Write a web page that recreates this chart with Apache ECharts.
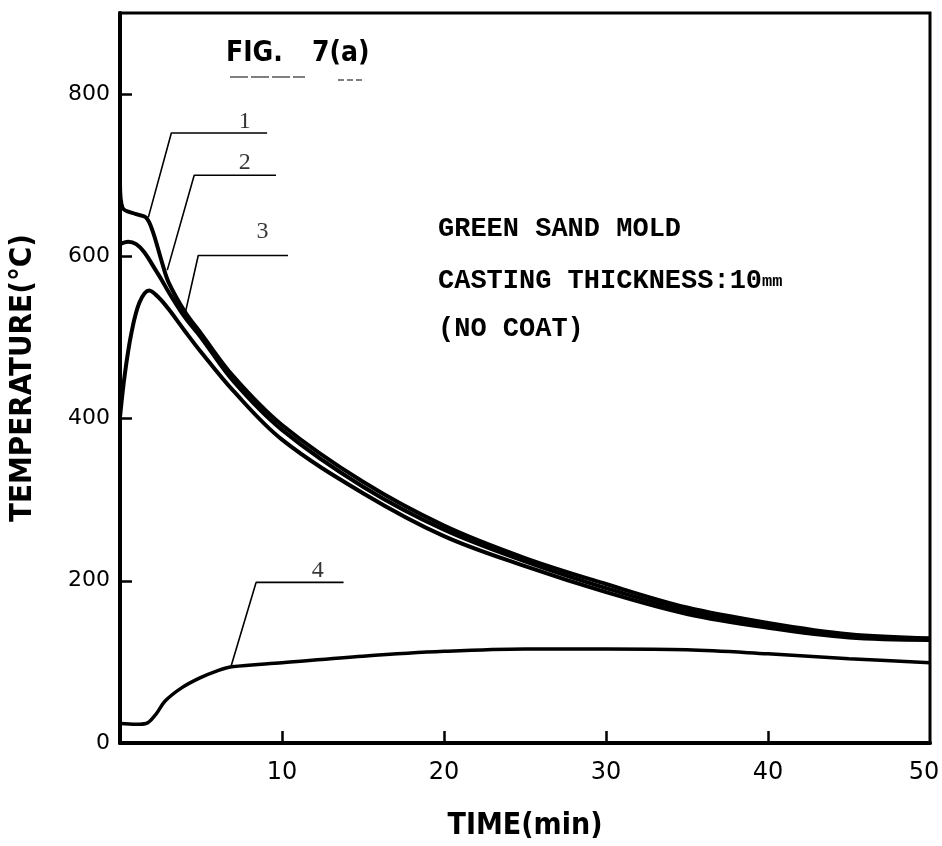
<!DOCTYPE html>
<html>
<head>
<meta charset="utf-8">
<script src="https://cdn.jsdelivr.net/npm/echarts@6/dist/echarts.min.js"></script>
<style>
  html, body { margin: 0; padding: 0; background: #fff; }
  #main { width: 942px; height: 846px; }
</style>
</head>
<body>
<div id="main"></div>
<script>
// 读图得到的数据 (time in min, temperature in °C)
const curve1Time = [0, 0.15, 1, 1.6, 2, 2.6, 3, 4, 5, 7, 10, 15, 20, 25, 30, 35, 40, 45, 50]
const curve1Temp = [690, 660, 652, 648, 632, 592, 568, 532, 505, 452, 392, 322, 268, 228, 196, 167, 148, 134, 129]

const curve2Time = [0, 0.5, 1, 1.5, 2.2, 2.6, 3, 4, 5, 7, 10, 15, 20, 25, 30, 35, 40, 45, 50]
const curve2Temp = [615, 618, 615, 605, 583, 570, 556, 525, 500, 446, 386, 316, 263, 224, 191, 163, 145, 132, 128]

const curve3Time = [0, 0.3, 0.7, 1.2, 1.8, 2.4, 3, 4, 5, 7, 10, 15, 20, 25, 30, 35, 40, 45, 50]
const curve3Temp = [402, 455, 505, 543, 558, 549, 535, 508, 482, 434, 374, 308, 255, 218, 186, 159, 142, 130, 127]

const curve4Time = [0, 1, 1.6, 2.2, 2.8, 3.8, 4.9, 6, 6.9, 10, 15, 20, 25, 30, 35, 40, 45, 50]
const curve4Temp = [24, 23, 24, 35, 52, 68, 80, 89, 94, 99, 107, 113, 116, 116, 115, 110, 104, 99]

const xTicks = [10, 20, 30, 40, 50]
const yTicks = [0, 200, 400, 600, 800]

// 曲线编号的引出线 (data coords)
const leaderNames = ['1', '2', '3', '4']
const leaderTime = [[1.75, 3.17, 9.08], [2.92, 4.58, 9.63], [3.97, 4.83, 10.37], [6.86, 8.4, 13.8]]
const leaderTemp = [[648, 752, 752], [583, 700, 700], [525, 601, 601], [95, 198, 198]]
const leaderLabelTime = [7.7, 7.7, 8.8, 12.2]
const leaderLabelTemp = [766, 716, 630, 212]

const zip = (xs, ys) => xs.map((x, i) => [x, ys[i]])

const condensed = '"Liberation Sans Narrow", "DejaVu Sans Condensed", "DejaVu Sans", sans-serif'
const mono = '"Liberation Mono", "DejaVu Sans Mono", monospace'

const curves = [
  { name: '1', data: zip(curve1Time, curve1Temp), width: 4 },
  { name: '2', data: zip(curve2Time, curve2Temp), width: 4 },
  { name: '3', data: zip(curve3Time, curve3Temp), width: 4 },
  { name: '4', data: zip(curve4Time, curve4Temp), width: 3.5 }
]

const series = curves.map(c => ({
  name: c.name,
  type: 'line',
  data: c.data,
  smooth: 0.35,
  showSymbol: false,
  silent: true,
  lineStyle: { color: '#000', width: c.width }
}))

leaderNames.forEach((n, i) => {
  series.push({
    name: 'leader' + n,
    type: 'line',
    data: zip(leaderTime[i], leaderTemp[i]),
    showSymbol: false,
    silent: true,
    lineStyle: { color: '#000', width: 1.6 }
  })
})

series.push({
  name: 'labels',
  type: 'scatter',
  symbolSize: 0,
  silent: true,
  data: leaderNames.map((n, i) => ({ value: [leaderLabelTime[i], leaderLabelTemp[i]], name: n })),
  label: {
    show: true,
    position: 'inside',
    formatter: p => p.name,
    color: '#000',
    fontFamily: '"Liberation Serif", "DejaVu Serif", serif',
    fontSize: 24
  }
})

const chart = echarts.init(document.getElementById('main'))
chart.setOption({
  backgroundColor: '#fff',
  animation: false,
  grid: {
    left: 120,
    right: 12,
    top: 13,
    bottom: 103,
    outerBoundsMode: 'none',
    show: true,
    borderColor: '#000',
    borderWidth: 3
  },
  xAxis: {
    type: 'value',
    min: 0,
    max: 50,
    interval: 10,
    name: 'TIME(min)',
    nameLocation: 'middle',
    nameGap: 68,
    nameTextStyle: { color: '#000', fontFamily: condensed, fontWeight: 'bold', fontSize: 30 },
    axisLine: { show: true, lineStyle: { color: '#000', width: 4 } },
    axisTick: { show: true, inside: true, length: 12, lineStyle: { color: '#000', width: 2.5 }, customValues: [10, 20, 30, 40] },
    axisLabel: {
      color: '#000',
      fontFamily: '"DejaVu Sans", sans-serif',
      fontSize: 24,
      margin: 18,
      customValues: xTicks,
      // 最右边的 50 稍微往左挪，避免被裁掉
      formatter: v => (v === 50 ? '{e|50}' : String(v)),
      rich: { e: { fontFamily: '"DejaVu Sans", sans-serif', fontSize: 24, color: '#000', padding: [0, 12, 0, 0] } }
    },
    splitLine: { show: false }
  },
  yAxis: {
    type: 'value',
    min: 0,
    max: 900,
    interval: 200,
    name: 'TEMPERATURE(°C)',
    nameLocation: 'middle',
    nameGap: 82,
    nameRotate: 90,
    nameTextStyle: { color: '#000', fontFamily: condensed, fontWeight: 'bold', fontSize: 31 },
    axisLine: { show: true, lineStyle: { color: '#000', width: 4 } },
    axisTick: { show: true, inside: true, length: 12, lineStyle: { color: '#000', width: 2.5 }, customValues: [200, 400, 600, 800] },
    axisLabel: { color: '#000', fontFamily: '"DejaVu Sans", sans-serif', fontSize: 22, margin: 10, customValues: yTicks },
    splitLine: { show: false }
  },
  graphic: [
    { type: 'text', left: 226, top: 40, style: { text: 'FIG.', fontFamily: condensed, fontWeight: 'bold', fontSize: 28, fill: '#000' } },
    { type: 'text', left: 312, top: 40, style: { text: '7(a)', fontFamily: condensed, fontWeight: 'bold', fontSize: 28, fill: '#000' } },
    { type: 'line', shape: { x1: 230, y1: 77, x2: 305, y2: 77 }, style: { stroke: '#555', lineWidth: 1.5, lineDash: [18, 3] } },
    { type: 'line', shape: { x1: 338, y1: 80, x2: 364, y2: 80 }, style: { stroke: '#555', lineWidth: 1.5, lineDash: [6, 3] } },
    { type: 'text', left: 438, top: 216, style: { text: 'GREEN SAND MOLD', fontFamily: mono, fontWeight: 'bold', fontSize: 27, fill: '#000' } },
    {
      type: 'text', left: 438, top: 268,
      style: {
        text: '{a|CASTING THICKNESS:10}{b|mm}',
        fill: '#000',
        rich: {
          a: { fontFamily: mono, fontWeight: 'bold', fontSize: 27, fill: '#000' },
          b: { fontFamily: mono, fontSize: 17, fill: '#000', fontWeight: 'bold' }
        }
      }
    },
    { type: 'text', left: 438, top: 316, style: { text: '(NO COAT)', fontFamily: mono, fontWeight: 'bold', fontSize: 27, fill: '#000' } }
  ],
  series: series
})
</script>
</body>
</html>
